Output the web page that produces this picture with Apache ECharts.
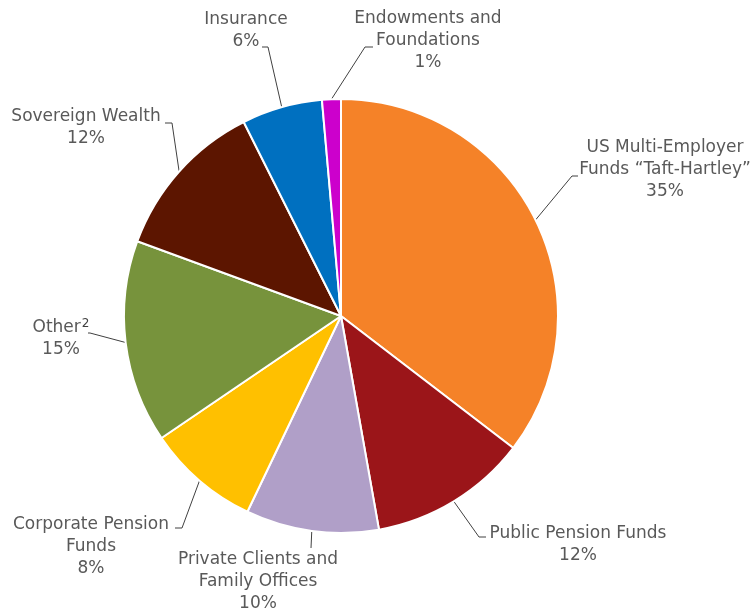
<!DOCTYPE html>
<html>
<head>
<meta charset="utf-8">
<script src="https://cdn.jsdelivr.net/npm/echarts@6/dist/echarts.min.js"></script>
<style>html,body{margin:0;padding:0;background:#fff}#c{width:752px;height:610px}</style>
</head>
<body>
<div id="c"></div>
<script>
var categories = [
  'US Multi-Employer\nFunds \u201cTaft-Hartley\u201d',
  'Public Pension Funds',
  'Private Clients and\nFamily Offices',
  'Corporate Pension\nFunds',
  'Other',
  'Sovereign Wealth',
  'Insurance',
  'Endowments and\nFoundations'
];
var footnotes = ['', '', '', '', '2', '', '', ''];
var shares = [35.4, 11.8, 9.9, 8.4, 15.1, 12.0, 6.0, 1.4];
var colors = ['#F58228', '#9B1519', '#B09FC8', '#FFC000', '#77933C', '#5C1500', '#0070C0', '#CC00CC'];

// label layout: text block centre and where the leader meets the text (elbow, end)
var labelCenters = [[665,170],[578,545],[258,582],[91,547],[61,339],[86,128],[246,31],[428,41]];
var leaderEnds = [
  [[572,176],[578,176]],
  [[479,537],[486,537]],
  [[311,548],[311,548]],
  [[182,528],[175,528]],
  [[90,333],[88,333]],
  [[172,123],[165,123]],
  [[268,47],[262,47]],
  [[365,47],[373,47]]
];

var chart = echarts.init(document.getElementById('c'));
var data = categories.map(function (n, i) {
  return { name: n, value: shares[i], itemStyle: { color: colors[i] } };
});
chart.setOption({
  animation: false,
  series: [{
    type: 'pie',
    center: [341, 316],
    radius: [0, 217],
    startAngle: 90,
    clockwise: true,
    avoidLabelOverlap: false,
    data: data,
    itemStyle: { borderColor: '#fff', borderWidth: 2 },
    label: {
      show: true,
      position: 'outside',
      fontFamily: 'DejaVu Sans',
      fontSize: 17,
      color: '#595959',
      lineHeight: 22,
      align: 'center',
      formatter: function (p) {
        var note = footnotes[p.dataIndex];
        var head = note ? p.name + '{sup|' + note + '}' : p.name;
        return head + '\n' + Math.round(p.value) + '%';
      },
      rich: {
        sup: { fontSize: 12, color: '#404040', fontFamily: 'DejaVu Sans', padding: [0, 0, 8, 1] }
      }
    },
    labelLine: { show: true, lineStyle: { color: '#404040', width: 1 } },
    labelLayout: function (p) {
      var i = p.dataIndex;
      var c = labelCenters[i];
      var pts = p.labelLinePoints;
      var start = pts && pts[0] ? pts[0] : leaderEnds[i][0];
      return {
        x: c[0], y: c[1], align: 'center', verticalAlign: 'middle',
        labelLinePoints: [start, leaderEnds[i][0], leaderEnds[i][1]]
      };
    }
  }]
});
</script>
</body>
</html>
